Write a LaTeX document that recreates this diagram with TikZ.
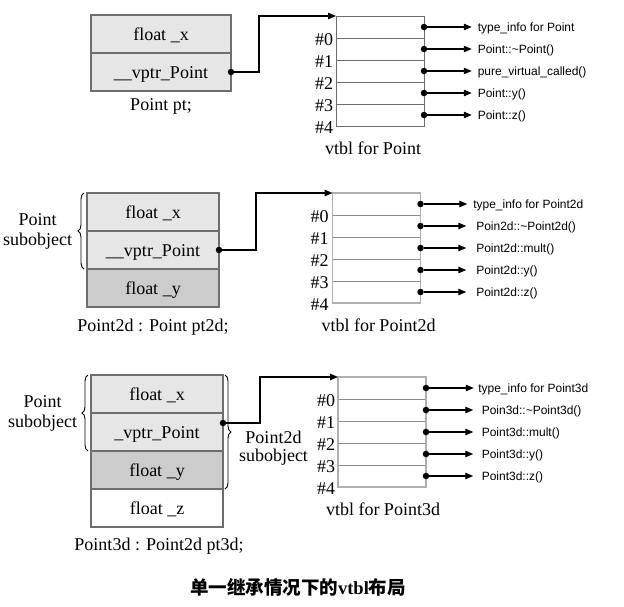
\documentclass[tikz,border=0pt]{standalone}
\usepackage{fontspec}
\setmainfont{Liberation Serif}
\setsansfont{Liberation Sans}
\newfontfamily\cjkfont{Noto Sans CJK SC}
\usetikzlibrary{arrows.meta,positioning,decorations.pathreplacing}

\definecolor{objFill}{HTML}{E6E6E6}
\definecolor{objDark}{HTML}{CCCCCC}
\definecolor{objLine}{HTML}{6E6E6E}
\definecolor{rowLine}{HTML}{8C8C8C}
\definecolor{tblFrame}{HTML}{B0B0B0}

\newcommand{\serifsz}{\fontsize{18}{20}\selectfont}

\begin{document}
\begin{tikzpicture}[
  x=1pt,y=-1pt,>={Triangle[length=8pt,width=6.5pt]},
  every node/.style={outer sep=0pt},
  cell/.style={draw=objLine,line width=1.1pt,fill=objFill,minimum height=38pt,
               font=\serifsz,text height=12pt,text depth=0pt},
  row/.style={draw=rowLine,line width=1pt,minimum width=88pt,minimum height=22pt,inner sep=0pt},
  idx/.style={anchor=east,inner sep=0pt,font=\serifsz,text height=12pt,text depth=0pt},
  caption/.style={inner sep=0pt,font=\serifsz,text height=12pt,text depth=0pt},
  dot/.style={circle,fill=black,inner sep=0pt,minimum size=6.5pt},
  entry/.style={inner sep=0pt,font=\sffamily\fontsize{12}{14}\selectfont,text height=9pt,text depth=0pt},
  ptr/.style={->,line width=1.1pt,shorten >=#1},ptr/.default=6pt,
  vlink/.style={->,line width=1.2pt},
  brace/.style={decorate,decoration={brace,amplitude=6pt},line width=0.9pt},
  sub/.style={inner sep=0pt,align=center,font=\serifsz},
]
\useasboundingbox (0,0) rectangle (624,606);

% --- Point pt ---
\node[cell,minimum width=140pt] (x1) at (161,34) {float \_x};
\node[cell,minimum width=140pt,below=0pt of x1] (vp1) {\_\_vptr\_Point};
\node[caption,below=7pt of vp1] (o1) {Point pt;};
\node[dot] (p1) at (vp1.east) {};

\node[row,draw=objLine] (v10) at (380,27) {};
\node[row,draw=objLine,below=0pt of v10] (v11) {};
\node[row,draw=objLine,below=0pt of v11] (v12) {};
\node[row,draw=objLine,below=0pt of v12] (v13) {};
\node[row,draw=objLine,below=0pt of v13] (v14) {};
\node[caption,below=16pt of v14,xshift=-7pt] (t1) {vtbl for Point};
\node[idx] (n10) at ([xshift=-3pt,yshift=-1pt]v10.south west) {\#0};
\node[idx] (n11) at ([xshift=-3pt,yshift=-1pt]v11.south west) {\#1};
\node[idx] (n12) at ([xshift=-3pt,yshift=-1pt]v12.south west) {\#2};
\node[idx] (n13) at ([xshift=-3pt,yshift=-1pt]v13.south west) {\#3};
\node[idx] (n14) at ([xshift=-3pt,yshift=-1pt]v14.south west) {\#4};

\node[dot] (d10) at (v10.east) {};
\node[dot] (d11) at (v11.east) {};
\node[dot] (d12) at (v12.east) {};
\node[dot] (d13) at (v13.east) {};
\node[dot] (d14) at (v14.east) {};
\node[entry,right=50.5pt of d10] (e10) {type\_info for Point};
\node[entry,right=50.5pt of d11] (e11) {Point::\textasciitilde Point()};
\node[entry,right=50.5pt of d12] (e12) {pure\_virtual\_called()};
\node[entry,right=50.5pt of d13] (e13) {Point::y()};
\node[entry,right=50.5pt of d14] (e14) {Point::z()};
\path (d10) edge[ptr] (e10)
      (d11) edge[ptr] (e11)
      (d12) edge[ptr] (e12)
      (d13) edge[ptr] (e13)
      (d14) edge[ptr] (e14);
\draw[vlink] (p1) -- ++(28,0) |- (v10.north west);

% --- Point2d pt2d ---
\node[cell,minimum width=132pt] (x2) at (153,212) {float \_x};
\node[cell,minimum width=132pt,below=0pt of x2] (vp2) {\_\_vptr\_Point};
\node[cell,minimum width=132pt,fill=objDark,below=0pt of vp2] (y2) {float \_y};
\node[caption,below=12.5pt of y2] (o2) {Point2d : Point pt2d;};
\node[dot] (p2) at (vp2.east) {};
\draw[brace] ([xshift=-3pt]vp2.south west) -- ([xshift=-3pt]x2.north west)
  node[sub,midway,left=12pt] (s2) {Point\\subobject};

\node[row] (v20) at (376.5,204) {};
\node[row,below=0pt of v20] (v21) {};
\node[row,below=0pt of v21] (v22) {};
\node[row,below=0pt of v22] (v23) {};
\node[row,below=0pt of v23] (v24) {};
\draw[tblFrame,line width=1.1pt] (v20.north west) rectangle (v24.south east);
\node[caption,below=16pt of v24,xshift=2pt] (t2) {vtbl for Point2d};
\node[idx] (n20) at ([xshift=-4pt,yshift=-1pt]v20.south west) {\#0};
\node[idx] (n21) at ([xshift=-4pt,yshift=-1pt]v21.south west) {\#1};
\node[idx] (n22) at ([xshift=-4pt,yshift=-1pt]v22.south west) {\#2};
\node[idx] (n23) at ([xshift=-4pt,yshift=-1pt]v23.south west) {\#3};
\node[idx] (n24) at ([xshift=-4pt,yshift=-1pt]v24.south west) {\#4};

\node[dot] (d20) at (v20.east) {};
\node[dot] (d21) at (v21.east) {};
\node[dot] (d22) at (v22.east) {};
\node[dot] (d23) at (v23.east) {};
\node[dot] (d24) at (v24.east) {};
\node[entry,right=49.5pt of d20] (e20) {type\_info for Point2d};
\node[entry,right=52.5pt of d21] (e21) {Poin2d::\textasciitilde Point2d()};
\node[entry,right=52.5pt of d22] (e22) {Point2d::mult()};
\node[entry,right=52.5pt of d23] (e23) {Point2d::y()};
\node[entry,right=52.5pt of d24] (e24) {Point2d::z()};
\path (d20) edge[ptr] (e20)
      (d21) edge[ptr=10pt] (e21)
      (d22) edge[ptr=10pt] (e22)
      (d23) edge[ptr=10pt] (e23)
      (d24) edge[ptr=10pt] (e24);
\draw[vlink] (p2) -- ++(37,0) |- (v20.north west);

% --- Point3d pt3d ---
\node[cell,minimum width=132pt] (x3) at (157,394) {float \_x};
\node[cell,minimum width=132pt,below=0pt of x3] (vp3) {\_vptr\_Point};
\node[cell,minimum width=132pt,fill=objDark,below=0pt of vp3] (y3) {float \_y};
\node[cell,minimum width=132pt,fill=white,below=0pt of y3] (z3) {float \_z};
\node[caption,below=11pt of z3,xshift=2pt] (o3) {Point3d : Point2d pt3d;};
\node[dot] (p3) at ([yshift=9pt]vp3.east) {};
\draw[brace] ([xshift=-3pt]vp3.south west) -- ([xshift=-3pt]x3.north west)
  node[sub,midway,left=11pt] (s3) {Point\\subobject};
\draw[brace] ([xshift=2pt]x3.north east) -- ([xshift=2pt]y3.south east)
  node[sub,font=\fontsize{18}{18}\selectfont,midway,right=14pt,yshift=-16pt] (s3b) {Point2d\\subobject};

\node[row] (v30) at (382,388) {};
\node[row,below=0pt of v30] (v31) {};
\node[row,below=0pt of v31] (v32) {};
\node[row,below=0pt of v32] (v33) {};
\node[row,below=0pt of v33] (v34) {};
\draw[tblFrame,line width=1.1pt] (v30.north west) rectangle (v34.south east);
\node[caption,below=16pt of v34,xshift=1pt] (t3) {vtbl for Point3d};
\node[idx] (n30) at ([xshift=-3pt,yshift=-1pt]v30.south west) {\#0};
\node[idx] (n31) at ([xshift=-3pt,yshift=-1pt]v31.south west) {\#1};
\node[idx] (n32) at ([xshift=-3pt,yshift=-1pt]v32.south west) {\#2};
\node[idx] (n33) at ([xshift=-3pt,yshift=-1pt]v33.south west) {\#3};
\node[idx] (n34) at ([xshift=-3pt,yshift=-1pt]v34.south west) {\#4};

\node[dot] (d30) at (v30.east) {};
\node[dot] (d31) at (v31.east) {};
\node[dot] (d32) at (v32.east) {};
\node[dot] (d33) at (v33.east) {};
\node[dot] (d34) at (v34.east) {};
\node[entry,right=49pt of d30] (e30) {type\_info for Point3d};
\node[entry,right=52.5pt of d31] (e31) {Poin3d::\textasciitilde Point3d()};
\node[entry,right=52.5pt of d32] (e32) {Point3d::mult()};
\node[entry,right=52.5pt of d33] (e33) {Point3d::y()};
\node[entry,right=52.5pt of d34] (e34) {Point3d::z()};
\path (d30) edge[ptr=4.5pt] (e30)
      (d31) edge[ptr=8.5pt] (e31)
      (d32) edge[ptr=8.5pt] (e32)
      (d33) edge[ptr=8.5pt] (e33)
      (d34) edge[ptr=8.5pt] (e34);
\draw[vlink] (p3) -- ++(37,0) |- (v30.north west);

\node[font=\cjkfont\bfseries\fontsize{18.5}{22}\selectfont] (title) at (298,587)
  {单一继承情况下的{\rmfamily vtbl}布局};
\end{tikzpicture}
\end{document}
